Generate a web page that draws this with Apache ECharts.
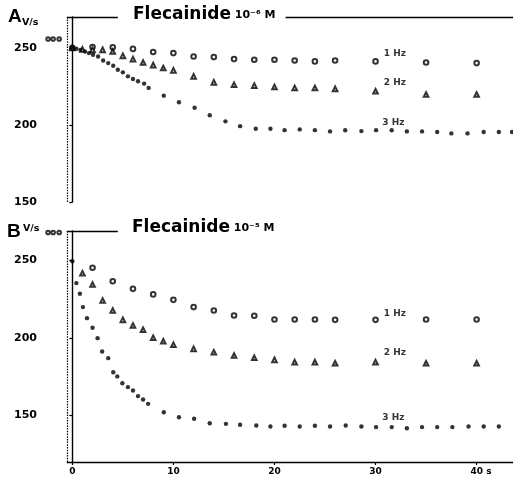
<!DOCTYPE html>
<html>
<head>
<meta charset="utf-8">
<script src="https://cdn.jsdelivr.net/npm/echarts@6/dist/echarts.min.js"></script>
<style>
  html, body { margin: 0; padding: 0; background: #fff; }
  #chart { width: 513px; height: 477px; }
</style>
</head>
<body>
<div id="chart"></div>
<script>
// time axis (s), shared by both panels
var xMin = -3, xMax = 43.6;
var xTicks = [0, 10, 20, 30, 40];
var yTicks = [150, 200, 250];
// drug on at this time, top bar broken for the title
var drugOn = -0.55, barEnd = 4.5, barResumeA = 21.1, barResumeB = 20.9;

// panel A: flecainide 10^-6 M
var aCtrlT = [-2.4, -1.9, -1.3];
var aCtrlV = [255.7, 255.7, 255.7];
var a1T = [0, 2, 4, 6, 8, 10, 12, 14, 16, 18, 20, 22, 24, 26, 30, 35, 40];
var a1V = [250, 250.5, 250.3, 249.3, 247.3, 246.6, 244.4, 244.0, 242.7, 242.3, 242.3, 241.8, 241.2, 241.8, 241.2, 240.5, 240.1];
var a2T = [0, 1, 2, 3, 4, 5, 6, 7, 8, 9, 10, 12, 14, 16, 18, 20, 22, 24, 26, 30, 35, 40];
var a2V = [250, 249, 248.7, 248.7, 247.6, 244.8, 242.7, 240.5, 238.8, 236.9, 235.4, 231.5, 227.6, 226.1, 225.5, 224.6, 224.0, 224.0, 223.4, 221.8, 219.7, 219.7];
var a3T = [0, 0.4, 0.8, 1.25, 1.65, 2.05, 2.55, 3.05, 3.55, 4.05, 4.5, 5.0, 5.5, 6.0, 6.5, 7.1, 7.55,
  9.05, 10.55, 12.1, 13.6, 15.15, 16.6, 18.15, 19.6, 21.0, 22.5, 24.0, 25.5, 27.0, 28.6, 30.05,
  31.6, 33.1, 34.6, 36.1, 37.5, 39.1, 40.7, 42.2, 43.5];
var a3V = [249.8, 249.4, 248.7, 247.6, 246.6, 245.5, 244.4, 241.8, 240.1, 238.4, 235.8, 234.1, 231.5, 229.8, 228.3, 226.8, 224.0,
  219.0, 214.7, 211.1, 206.3, 202.3, 199.2, 197.5, 197.5, 196.6, 197.1, 196.6, 195.8, 196.5, 196.0, 196.6,
  196.5, 195.8, 195.8, 195.4, 194.5, 194.5, 195.4, 195.4, 195.4];

// panel B: flecainide 10^-5 M
var bCtrlT = [-2.4, -1.9, -1.3];
var bCtrlV = [268, 268, 268];
var b1T = [2, 4, 6, 8, 10, 12, 14, 16, 18, 20, 22, 24, 26, 30, 35, 40];
var b1V = [245.3, 236.6, 231.7, 228.1, 224.6, 219.9, 217.7, 214.5, 214.3, 211.9, 211.9, 211.9, 211.7, 211.7, 211.9, 211.9];
var b2T = [1, 2, 3, 4, 5, 6, 7, 8, 9, 10, 12, 14, 16, 18, 20, 22, 24, 26, 30, 35, 40];
var b2V = [241.8, 234.5, 224.2, 217.7, 211.7, 208.1, 205.3, 200.1, 197.9, 195.6, 193.0, 190.8, 188.7, 187.2, 185.9, 184.4, 184.4, 183.7, 184.4, 183.7, 183.7];
var b3T = [0, 0.4, 0.75, 1.05, 1.45, 2.0, 2.5, 2.95, 3.55, 4.05, 4.45, 4.95, 5.5, 6.0, 6.5, 7.0, 7.5,
  9.05, 10.55, 12.05, 13.6, 15.2, 16.6, 18.2, 19.6, 21.0, 22.5, 24.0, 25.5, 27.05, 28.6, 30.05,
  31.6, 33.1, 34.6, 36.1, 37.6, 39.2, 40.7, 42.2];
var b3V = [249.5, 235.4, 228.5, 219.9, 212.8, 206.6, 199.9, 191.3, 187.0, 177.9, 175.2, 170.8, 168.3, 166.1, 162.5, 160.3, 157.5,
  152.1, 148.9, 147.9, 145.0, 144.6, 144.0, 143.5, 142.9, 143.4, 142.9, 143.4, 142.9, 143.5, 142.9, 142.5,
  142.5, 141.8, 142.5, 142.5, 142.5, 142.9, 142.9, 142.9];

var ink = "#000";
var font = "DejaVu Sans";

function zip(t, v){
  var out = [];
  for (var i = 0; i < t.length; i++) out.push([t[i], v[i]]);
  return out;
}

// "1 Hz" etc. sits next to the 30 s point
function hzLabel(text, dy, dist){
  return {
    show: true, position: "right", distance: dist, offset: [0, dy],
    color: ink, fontFamily: font, fontWeight: "bold", fontSize: 9,
    formatter: function(p){ return Math.abs(p.value[0] - 30) < 0.2 ? text : ""; }
  };
}

function seg(a, b, dotted){
  return [
    {coord: a, lineStyle: {color: ink, width: dotted ? 1.2 : 1.3, type: dotted ? [1.5, 1.2] : "solid"}},
    {coord: b}
  ];
}

function scatter(idx, data, kind, label){
  var s = {
    type: "scatter", xAxisIndex: idx, yAxisIndex: idx, data: data,
    symbol: kind === "o" ? "emptyCircle" : (kind === "t" ? "emptyTriangle" : "circle"),
    symbolSize: kind === "o" ? 4.6 : (kind === "t" ? 4.6 : 4.4),
    itemStyle: {color: ink, borderColor: ink, borderWidth: kind === "d" ? 0 : (kind === "o" ? 1.5 : 1.2)},
    emphasis: {disabled: true}
  };
  if (label) s.label = label;
  return s;
}

function yAxis(idx, min, max){
  return {
    gridIndex: idx, type: "value", min: min, max: max,
    axisLine: {show: true, lineStyle: {color: ink, width: 1.4}},
    axisTick: {show: true, inside: false, length: 3, customValues: yTicks, lineStyle: {color: ink, width: 1.2}},
    axisLabel: {customValues: yTicks, margin: 5, color: ink, fontFamily: font, fontWeight: "bold", fontSize: 11},
    splitLine: {show: false}
  };
}

var titleRich = {
  f: {fontFamily: font, fontWeight: "bold", fontSize: 17, color: ink, lineHeight: 18},
  s: {fontFamily: font, fontWeight: "bold", fontSize: 11, color: ink, lineHeight: 18}
};

var chart = echarts.init(document.getElementById("chart"), null, {renderer: "canvas"});
chart.setOption({
  animation: false,
  backgroundColor: "#fff",
  title: [
    {text: "A", left: 8, top: 7, padding: 0, textStyle: {fontFamily: "Liberation Sans", fontWeight: "bold", fontSize: 19, color: ink, lineHeight: 20}},
    {text: "V/s", left: 22, top: 18, padding: 0, textStyle: {fontFamily: font, fontWeight: "bold", fontSize: 9.5, color: ink, lineHeight: 10}},
    {text: "B", left: 7, top: 222, padding: 0, textStyle: {fontFamily: "Liberation Sans", fontWeight: "bold", fontSize: 19, color: ink, lineHeight: 20}},
    {text: "V/s", left: 23, top: 224, padding: 0, textStyle: {fontFamily: font, fontWeight: "bold", fontSize: 9.5, color: ink, lineHeight: 10}},
    {text: "{f|Flecainide}{s| 10⁻⁶ M}", left: 133, top: 6, padding: 0, textStyle: {rich: titleRich}},
    {text: "{f|Flecainide}{s| 10⁻⁵ M}", left: 132, top: 219, padding: 0, textStyle: {rich: titleRich}}
  ],
  grid: [
    {left: 42, right: 0, top: 17, height: 185},
    {left: 42, right: 0, top: 231, height: 231}
  ],
  xAxis: [
    {gridIndex: 0, type: "value", min: xMin, max: xMax, show: false, splitLine: {show: false}},
    {
      gridIndex: 1, type: "value", min: xMin, max: xMax,
      axisLine: {show: false},
      axisTick: {show: true, length: 3, customValues: xTicks, lineStyle: {color: ink, width: 1.2}},
      axisLabel: {
        customValues: xTicks, margin: 5, color: ink, fontFamily: font, fontWeight: "bold", fontSize: 9,
        formatter: function(v){ return v === 40 ? "{p|}40 s" : String(v); },
        rich: {p: {width: 9}}
      },
      splitLine: {show: false}
    }
  ],
  yAxis: [yAxis(0, 150, 270), yAxis(1, 120, 269)],
  series: [
    {
      type: "scatter", xAxisIndex: 0, yAxisIndex: 0, data: zip(aCtrlT, aCtrlV), clip: false,
      symbol: "emptyCircle", symbolSize: 3.6,
      itemStyle: {color: ink, borderColor: ink, borderWidth: 1.3},
      markLine: {
        silent: true, symbol: ["none", "none"], label: {show: false},
        data: [
          seg([drugOn, 150], [drugOn, 270], true),
          seg([drugOn, 270], [barEnd, 270], false),
          seg([barResumeA, 270], [xMax, 270], false)
        ]
      }
    },
    scatter(0, zip(a1T, a1V), "o", hzLabel("1 Hz", -7.5, 5)),
    scatter(0, zip(a2T, a2V), "t", hzLabel("2 Hz", -9, 5)),
    scatter(0, zip(a3T, a3V), "d", hzLabel("3 Hz", -8, 4)),
    {
      type: "scatter", xAxisIndex: 1, yAxisIndex: 1, data: zip(bCtrlT, bCtrlV), clip: false,
      symbol: "emptyCircle", symbolSize: 3.6,
      itemStyle: {color: ink, borderColor: ink, borderWidth: 1.3},
      markLine: {
        silent: true, symbol: ["none", "none"], label: {show: false},
        data: [
          seg([drugOn, 120], [drugOn, 269], true),
          seg([drugOn, 269], [barEnd, 269], false),
          seg([barResumeB, 269.6], [xMax, 269.6], false),
          seg([drugOn, 120], [xMax, 120], false)
        ]
      }
    },
    scatter(1, zip(b1T, b1V), "o", hzLabel("1 Hz", -6, 5)),
    scatter(1, zip(b2T, b2V), "t", hzLabel("2 Hz", -9.5, 5)),
    scatter(1, zip(b3T, b3V), "d", hzLabel("3 Hz", -9, 4))
  ]
});
</script>
</body>
</html>
